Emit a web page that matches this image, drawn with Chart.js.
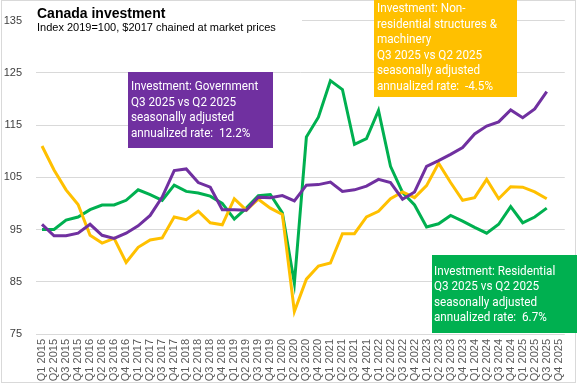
<!DOCTYPE html>
<html>
<head>
<meta charset="utf-8">
<script src="https://cdn.jsdelivr.net/npm/chart.js@4/dist/chart.umd.min.js"></script>
<style>
  html, body { margin: 0; padding: 0; background: #fff; }
  #wrap { width: 577px; height: 385px; }
</style>
</head>
<body>
<div id="wrap"><canvas id="chart" width="577" height="385"></canvas></div>
<script>
const quarters = [
  "Q1 2015", "Q2 2015", "Q3 2015", "Q4 2015", "Q1 2016", "Q2 2016", "Q3 2016", "Q4 2016",
  "Q1 2017", "Q2 2017", "Q3 2017", "Q4 2017", "Q1 2018", "Q2 2018", "Q3 2018", "Q4 2018",
  "Q1 2019", "Q2 2019", "Q3 2019", "Q4 2019", "Q1 2020", "Q2 2020", "Q3 2020", "Q4 2020",
  "Q1 2021", "Q2 2021", "Q3 2021", "Q4 2021", "Q1 2022", "Q2 2022", "Q3 2022", "Q4 2022",
  "Q1 2023", "Q2 2023", "Q3 2023", "Q4 2023", "Q1 2024", "Q2 2024", "Q3 2024", "Q4 2024",
  "Q1 2025", "Q2 2025", "Q3 2025", "Q4 2025"
];

const government = [
  96.0, 93.8, 93.8, 94.3, 96.0, 93.9, 93.3, 94.3, 95.7, 97.7, 101.2, 106.3, 106.6, 104.0, 103.1, 98.8,
  98.8, 98.7, 101.2, 101.1, 101.5, 100.5, 103.5, 103.6, 104.1, 102.3, 102.6, 103.3, 104.6, 104.0, 100.8, 102.2,
  107.1, 108.2, 109.4, 110.7, 113.3, 114.8, 115.6, 117.9, 116.4, 118.1, 121.4, null
];

const nonResidential = [
  111.0, 106.4, 102.6, 99.8, 93.9, 92.4, 93.3, 88.7, 91.6, 93.0, 93.4, 97.4, 96.9, 98.5, 96.3, 95.9,
  100.9, 98.7, 100.8, 99.1, 97.9, 79.3, 85.5, 88.0, 88.6, 94.2, 94.2, 97.4, 98.5, 100.9, 102.2, 101.1,
  103.4, 107.7, 104.0, 100.6, 101.1, 104.6, 100.9, 103.2, 103.1, 102.2, 100.9, null
];

const residential = [
  95.0, 95.0, 96.8, 97.4, 98.8, 99.7, 99.7, 100.6, 102.6, 101.7, 100.6, 103.5, 102.3, 102.0, 101.4, 100.0,
  97.0, 99.1, 101.5, 101.7, 98.2, 84.7, 112.7, 116.5, 123.5, 121.8, 111.3, 112.4, 117.8, 107.1, 102.1, 99.7,
  95.5, 96.1, 97.7, 96.6, 95.4, 94.3, 96.0, 99.4, 96.3, 97.4, 99.1, null
];

const yTicks = [75, 85, 95, 105, 115, 125, 135];

const chartTitle = "Canada investment";
const chartSubtitle = "Index 2019=100, $2017 chained at market prices";

const govNote = ["Investment: Government", "Q3 2025 vs Q2 2025", "seasonally adjusted", "annualized rate:  12.2%"];
const nonResNote = ["Investment: Non-", "residential structures &", "machinery", "Q3 2025 vs Q2 2025", "seasonally adjusted", "annualized rate:  -4.5%"];
const resNote = ["Investment: Residential", "Q3 2025 vs Q2 2025", "seasonally adjusted", "annualized rate:  6.7%"];

const PURPLE = "#7030A0";
const YELLOW = "#FFC000";
const GREEN = "#00B050";

// boxes drawn on top of the plot, like the Excel text boxes
const notes = [
  { color: PURPLE, box: [128, 72, 145, 76], x: 131, y: 87, lines: govNote },
  { color: YELLOW, box: [374, 0, 143, 97], x: 377, y: 8.7, lines: nonResNote },
  { color: GREEN, box: [432, 255, 145, 78], x: 434, y: 271.3, lines: resNote }
];

const overlay = {
  id: "overlay",
  afterDraw(chart) {
    const ctx = chart.ctx;
    ctx.save();

    ctx.strokeStyle = "#d9d9d9";
    ctx.lineWidth = 1;
    ctx.strokeRect(1.5, 0.5, 574, 382);

    ctx.fillStyle = "#fff";
    ctx.fillRect(34, 2, 268, 35);
    ctx.fillStyle = "#000";
    ctx.textBaseline = "alphabetic";
    ctx.font = 'bold 14px "Liberation Sans"';
    ctx.fillText(chartTitle, 37, 18);
    ctx.font = '11px "Liberation Sans"';
    ctx.fillText(chartSubtitle, 37, 31);

    notes.forEach((n) => {
      ctx.fillStyle = n.color;
      ctx.fillRect(n.box[0], n.box[1], n.box[2], n.box[3]);
      ctx.fillStyle = "#fff";
      ctx.font = '13px "Roboto"';
      ctx.textBaseline = "middle";
      n.lines.forEach((line, i) => {
        ctx.save();
        ctx.translate(n.x, n.y + i * 15.6);
        ctx.scale(0.9, 1);
        ctx.fillText(line, 0, 0);
        ctx.restore();
      });
    });

    ctx.restore();
  }
};

Chart.defaults.font.family = '"Liberation Sans", Arial, sans-serif';

new Chart(document.getElementById("chart").getContext("2d"), {
  type: "line",
  data: {
    labels: quarters,
    datasets: [
      { label: "Government", data: government, borderColor: PURPLE, backgroundColor: PURPLE },
      { label: "Non-residential structures & machinery", data: nonResidential, borderColor: YELLOW, backgroundColor: YELLOW },
      { label: "Residential", data: residential, borderColor: GREEN, backgroundColor: GREEN }
    ]
  },
  options: {
    responsive: false,
    animation: false,
    devicePixelRatio: 1,
    layout: { padding: { top: 7, right: 4, bottom: 1, left: 1 } },
    elements: {
      line: { borderWidth: 3, tension: 0 },
      point: { radius: 0, hoverRadius: 0 }
    },
    plugins: {
      legend: { display: false },
      tooltip: { enabled: false }
    },
    scales: {
      x: {
        offset: true,
        grid: { display: false, drawTicks: false },
        border: { display: false },
        ticks: {
          autoSkip: false,
          minRotation: 90,
          maxRotation: 90,
          padding: 5,
          color: "#595959",
          font: { size: 11 }
        },
        afterFit: (scale) => { scale.height = 50; }
      },
      y: {
        min: 75,
        max: 135,
        afterBuildTicks: (scale) => { scale.ticks = yTicks.map((v) => ({ value: v })); },
        grid: { color: "#d9d9d9", lineWidth: 1, drawTicks: false },
        border: { display: false },
        ticks: { padding: 14, color: "#404040", font: { size: 11 } },
        afterFit: (scale) => { scale.width = 35; }
      }
    }
  },
  plugins: [overlay]
});
</script>
</body>
</html>
